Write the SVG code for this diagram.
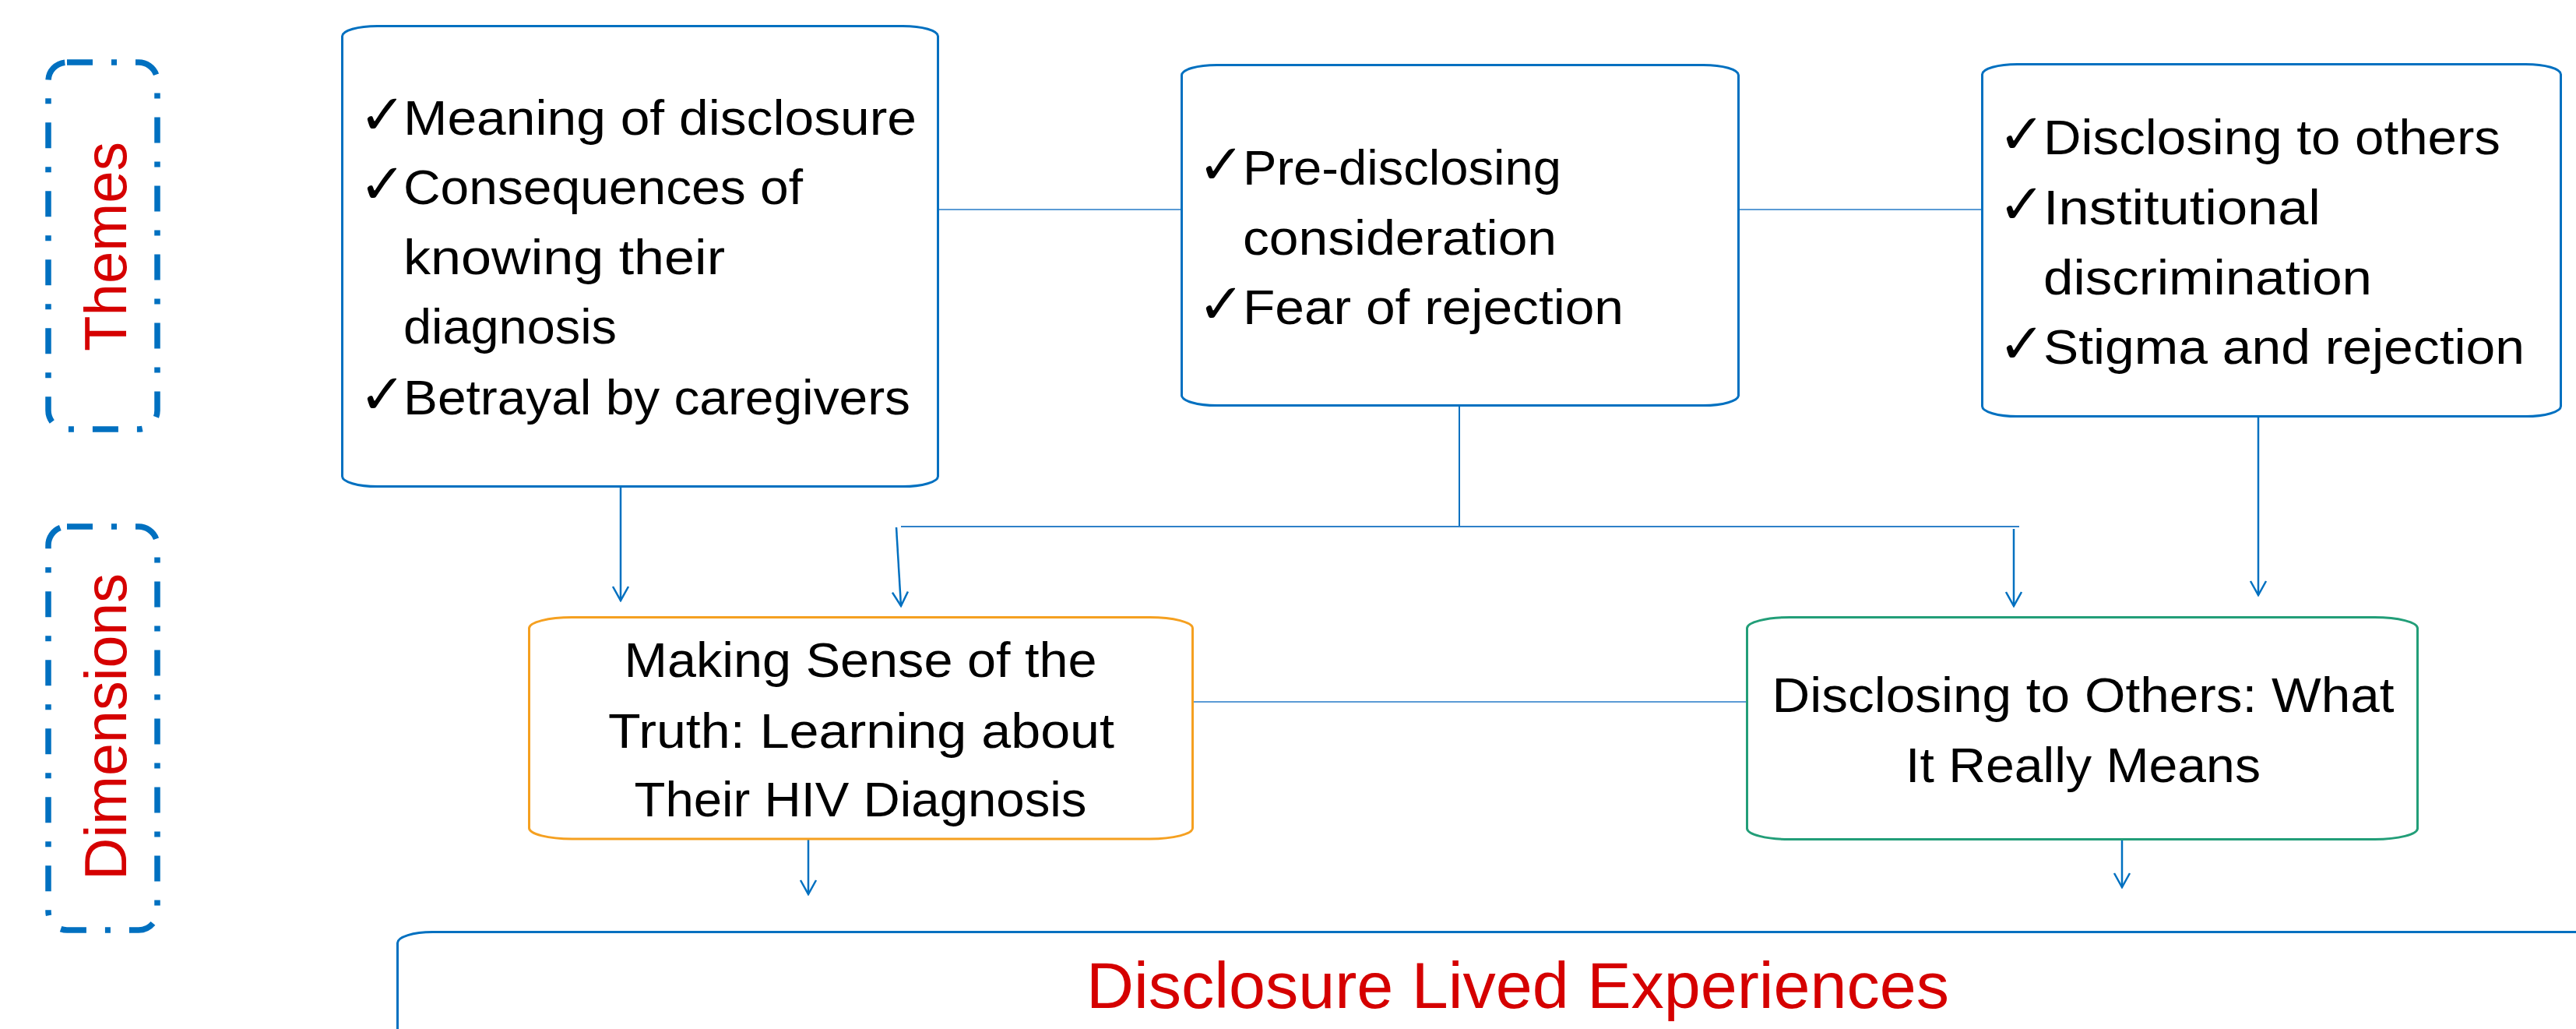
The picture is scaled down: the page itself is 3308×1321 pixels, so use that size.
<svg xmlns="http://www.w3.org/2000/svg" width="3308" height="1321" viewBox="0 0 3308 1321">
<style>
.lbl{fill:none;stroke:#0070C0;stroke-width:7.5;stroke-dasharray:33 24 7 24}
.side{font-family:"Liberation Sans",Arial,sans-serif;font-size:76px;fill:#D50000}
.theme{fill:#fff;stroke:#0070C0;stroke-width:3}
.t{font-family:"Liberation Sans",Arial,sans-serif;font-size:63px;fill:#000}
.ck{font-family:"DejaVu Sans",sans-serif;font-size:72px;font-weight:bold;fill:#000}
.c{text-anchor:middle}
.ln{fill:none;stroke:#5B9BD5;stroke-width:2}
.ar{fill:none;stroke:#0070C0;stroke-width:2.5;marker-end:url(#arr)}
</style>
<defs>
<marker id="arr" viewBox="-20 -12 22 24" refX="0" refY="0" markerWidth="22" markerHeight="24" markerUnits="userSpaceOnUse" orient="auto">
<path d="M-18,-10 L0,0 L-18,10" fill="none" stroke="#0070C0" stroke-width="2.5"/>
</marker>
</defs>

<g id="label-themes">
<rect class="lbl" x="62" y="80" width="140" height="471" rx="24" ry="24"/>
<text class="side c" transform="translate(162,316.5) rotate(-90)" textLength="269" lengthAdjust="spacingAndGlyphs">Themes</text>
</g>
<g id="label-dimensions">
<rect class="lbl" x="62" y="676" width="140" height="518" rx="24" ry="24"/>
<text class="side c" transform="translate(162,933) rotate(-90)" textLength="394" lengthAdjust="spacingAndGlyphs">Dimensions</text>
</g>

<g id="connectors">
<line class="ln" x1="1206" y1="269" x2="1516" y2="269"/>
<line class="ln" x1="2234" y1="269" x2="2544" y2="269"/>
<line class="ar" x1="797" y1="626" x2="797" y2="771"/>
<line fill="none" stroke="#0070C0" stroke-width="2" x1="1874" y1="522" x2="1874" y2="676"/>
<line fill="none" stroke="#2F80C8" stroke-width="2" x1="1157" y1="676" x2="2593" y2="676"/>
<line class="ar" x1="1151" y1="677" x2="1157" y2="778"/>
<line class="ar" x1="2586" y1="679" x2="2586" y2="778"/>
<line class="ar" x1="2900" y1="536" x2="2900" y2="764"/>
<line class="ln" x1="1533" y1="901" x2="2242" y2="901"/>
<line class="ar" x1="1038" y1="1078" x2="1038" y2="1148"/>
<line class="ar" x1="2725" y1="1079" x2="2725" y2="1139"/>
</g>

<g id="theme-1">
<rect class="theme" x="439.5" y="33.5" width="765" height="591" rx="45" ry="13"/>
<text class="ck" x="461" y="172">✓</text>
<text class="t" x="518" y="173" textLength="659" lengthAdjust="spacingAndGlyphs">Meaning of disclosure</text>
<text class="ck" x="461" y="261">✓</text>
<text class="t" x="518" y="262" textLength="513" lengthAdjust="spacingAndGlyphs">Consequences of</text>
<text class="t" x="518" y="352" textLength="413" lengthAdjust="spacingAndGlyphs">knowing their</text>
<text class="t" x="518" y="441" textLength="274" lengthAdjust="spacingAndGlyphs">diagnosis</text>
<text class="ck" x="461" y="531">✓</text>
<text class="t" x="518" y="532" textLength="651" lengthAdjust="spacingAndGlyphs">Betrayal by caregivers</text>
</g>

<g id="theme-2">
<rect class="theme" x="1517.5" y="83.5" width="715" height="437" rx="45" ry="13"/>
<text class="ck" x="1538" y="236">✓</text>
<text class="t" x="1596" y="237" textLength="409" lengthAdjust="spacingAndGlyphs">Pre-disclosing</text>
<text class="t" x="1596" y="327" textLength="403" lengthAdjust="spacingAndGlyphs">consideration</text>
<text class="ck" x="1538" y="415">✓</text>
<text class="t" x="1596" y="416" textLength="489" lengthAdjust="spacingAndGlyphs">Fear of rejection</text>
</g>

<g id="theme-3">
<rect class="theme" x="2545.5" y="82.5" width="743" height="452" rx="45" ry="13"/>
<text class="ck" x="2566" y="197">✓</text>
<text class="t" x="2624" y="198" textLength="587" lengthAdjust="spacingAndGlyphs">Disclosing to others</text>
<text class="ck" x="2566" y="287">✓</text>
<text class="t" x="2624" y="288" textLength="356" lengthAdjust="spacingAndGlyphs">Institutional</text>
<text class="t" x="2624" y="378" textLength="422" lengthAdjust="spacingAndGlyphs">discrimination</text>
<text class="ck" x="2566" y="466">✓</text>
<text class="t" x="2624" y="467" textLength="618" lengthAdjust="spacingAndGlyphs">Stigma and rejection</text>
</g>

<g id="dimension-1">
<rect x="679.5" y="792.5" width="852" height="284.5" rx="55" ry="14" fill="#fff" stroke="#F5A020" stroke-width="3"/>
<text class="t c" x="1105" y="869" textLength="607" lengthAdjust="spacingAndGlyphs">Making Sense of the</text>
<text class="t c" x="1106" y="960" textLength="650" lengthAdjust="spacingAndGlyphs">Truth: Learning about</text>
<text class="t c" x="1105" y="1048" textLength="581" lengthAdjust="spacingAndGlyphs">Their HIV Diagnosis</text>
</g>

<g id="dimension-2">
<rect x="2243.5" y="792.5" width="861" height="285" rx="55" ry="14" fill="#fff" stroke="#229E78" stroke-width="3"/>
<text class="t c" x="2675" y="914" textLength="799" lengthAdjust="spacingAndGlyphs">Disclosing to Others: What</text>
<text class="t c" x="2675" y="1004" textLength="456" lengthAdjust="spacingAndGlyphs">It Really Means</text>
</g>

<g id="outcome">
<rect x="510.5" y="1196.5" width="3000" height="400" rx="45" ry="14" fill="#fff" stroke="#0070C0" stroke-width="3"/>
<text class="c" x="1949" y="1294" font-family="'Liberation Sans',Arial,sans-serif" font-size="84" fill="#D50000" textLength="1108" lengthAdjust="spacingAndGlyphs">Disclosure Lived Experiences</text>
</g>
</svg>
